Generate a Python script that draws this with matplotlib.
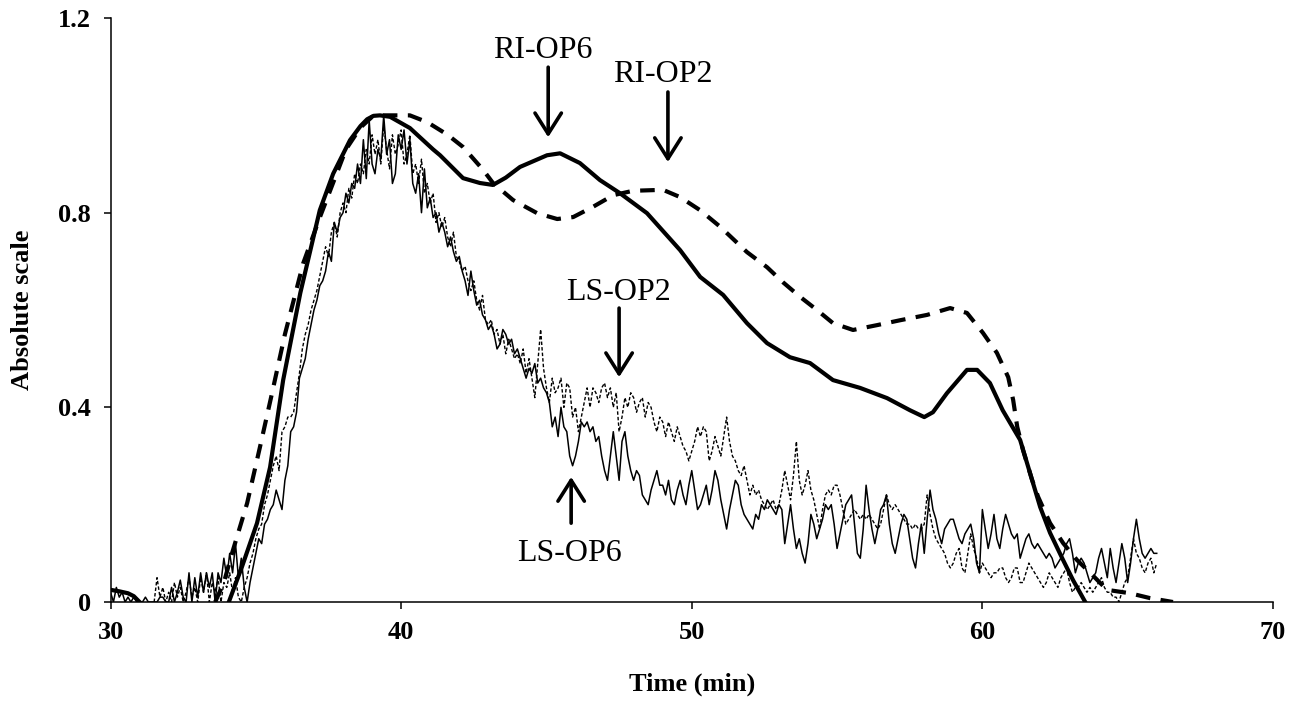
import numpy as np
import matplotlib
matplotlib.use("Agg")
from matplotlib import pyplot
from matplotlib import ticker

# time grid of the light-scattering records (min)
ls_op6_t0 = 30.0
ls_op2_t0 = 31.5
dt = 0.1

# LS-OP6 (thin solid), one row per minute
ls_op6 = [
    0.02, 0.00, 0.03, 0.01, 0.02, 0.00, 0.01, 0.00, 0.01, 0.00,   # 30
    0.00, 0.00, 0.01, 0.00, 0.00, 0.00, 0.00, 0.01, 0.01, 0.00,   # 31
    0.00, 0.03, 0.00, 0.02, 0.045, 0.01, 0.00, 0.06, 0.00, 0.05,  # 32
    0.01, 0.06, 0.02, 0.06, 0.03, 0.06, 0.00, 0.06, 0.04, 0.09,   # 33
    0.05, 0.10, 0.06, 0.12, 0.05, 0.09, 0.03, 0.00, 0.04, 0.07,   # 34
    0.10, 0.13, 0.12, 0.16, 0.17, 0.19, 0.20, 0.23, 0.21, 0.19,   # 35
    0.25, 0.28, 0.35, 0.36, 0.39, 0.46, 0.48, 0.50, 0.54, 0.57,   # 36
    0.60, 0.62, 0.65, 0.66, 0.68, 0.72, 0.70, 0.78, 0.76, 0.79,   # 37
    0.80, 0.84, 0.82, 0.86, 0.85, 0.90, 0.86, 0.95, 0.87, 0.99,   # 38
    0.90, 0.88, 0.93, 0.91, 1.00, 0.92, 0.95, 0.86, 0.88, 0.96,   # 39
    0.93, 0.97, 0.90, 0.95, 0.86, 0.84, 0.88, 0.80, 0.89, 0.81,   # 40
    0.83, 0.79, 0.80, 0.76, 0.78, 0.76, 0.73, 0.75, 0.72, 0.70,   # 41
    0.71, 0.68, 0.66, 0.63, 0.68, 0.64, 0.61, 0.62, 0.59, 0.58,   # 42
    0.56, 0.57, 0.55, 0.52, 0.53, 0.56, 0.55, 0.53, 0.54, 0.51,   # 43
    0.52, 0.50, 0.48, 0.46, 0.48, 0.47, 0.49, 0.45, 0.46, 0.44,   # 44
    0.43, 0.41, 0.36, 0.38, 0.34, 0.40, 0.36, 0.35, 0.30, 0.28,   # 45
    0.30, 0.33, 0.37, 0.36, 0.37, 0.35, 0.36, 0.33, 0.34, 0.30,   # 46
    0.27, 0.25, 0.30, 0.35, 0.30, 0.25, 0.33, 0.35, 0.30, 0.27,   # 47
    0.25, 0.27, 0.26, 0.22, 0.21, 0.20, 0.23, 0.25, 0.27, 0.24,   # 48
    0.24, 0.22, 0.25, 0.21, 0.20, 0.23, 0.25, 0.22, 0.20, 0.24,   # 49
    0.27, 0.23, 0.19, 0.20, 0.22, 0.24, 0.20, 0.23, 0.27, 0.25,   # 50
    0.21, 0.18, 0.15, 0.19, 0.22, 0.25, 0.24, 0.20, 0.18, 0.17,   # 51
    0.16, 0.15, 0.18, 0.17, 0.20, 0.19, 0.21, 0.20, 0.19, 0.18,   # 52
    0.20, 0.19, 0.12, 0.16, 0.20, 0.15, 0.11, 0.13, 0.10, 0.08,   # 53
    0.12, 0.18, 0.16, 0.13, 0.15, 0.17, 0.20, 0.19, 0.20, 0.16,   # 54
    0.11, 0.14, 0.17, 0.20, 0.21, 0.22, 0.16, 0.10, 0.09, 0.15,   # 55
    0.24, 0.19, 0.15, 0.12, 0.15, 0.19, 0.20, 0.22, 0.16, 0.12,   # 56
    0.10, 0.13, 0.16, 0.18, 0.17, 0.13, 0.09, 0.07, 0.12, 0.16,   # 57
    0.10, 0.17, 0.23, 0.19, 0.17, 0.14, 0.12, 0.15, 0.16, 0.17,   # 58
    0.17, 0.15, 0.13, 0.12, 0.14, 0.15, 0.16, 0.13, 0.08, 0.06,   # 59
    0.19, 0.15, 0.11, 0.14, 0.18, 0.13, 0.11, 0.15, 0.18, 0.16,   # 60
    0.14, 0.13, 0.14, 0.09, 0.11, 0.13, 0.14, 0.12, 0.11, 0.12,   # 61
    0.11, 0.10, 0.09, 0.10, 0.09, 0.07, 0.08, 0.09, 0.10, 0.12,   # 62
    0.13, 0.10, 0.06, 0.08, 0.09, 0.08, 0.06, 0.04, 0.05, 0.06,   # 63
    0.09, 0.11, 0.08, 0.05, 0.11, 0.07, 0.04, 0.08, 0.12, 0.09,   # 64
    0.04, 0.08, 0.13, 0.17, 0.13, 0.10, 0.09, 0.10, 0.11, 0.10,   # 65
    0.10,                                                         # 66
]

# LS-OP2 (thin dotted), starts at 31.5 min
ls_op2 = [
    0.00, 0.05, 0.01, 0.03, 0.00,                                 # 31.5
    0.02, 0.00, 0.04, 0.01, 0.03, 0.00, 0.02, 0.05, 0.01, 0.03,   # 32
    0.00, 0.05, 0.02, 0.06, 0.00, 0.04, 0.02, 0.05, 0.00, 0.04,   # 33
    0.03, 0.06, 0.02, 0.05, 0.01, 0.00, 0.03, 0.05, 0.08, 0.10,   # 34
    0.13, 0.15, 0.16, 0.20, 0.22, 0.25, 0.28, 0.30, 0.27, 0.35,   # 35
    0.36, 0.38, 0.38, 0.39, 0.43, 0.47, 0.52, 0.55, 0.57, 0.60,   # 36
    0.62, 0.64, 0.67, 0.70, 0.73, 0.71, 0.76, 0.78, 0.75, 0.80,   # 37
    0.82, 0.80, 0.85, 0.83, 0.88, 0.86, 0.90, 0.88, 0.93, 0.90,   # 38
    0.96, 0.92, 0.95, 0.90, 0.98, 0.93, 0.89, 0.96, 0.92, 0.94,   # 39
    0.97, 0.90, 0.92, 0.96, 0.88, 0.90, 0.86, 0.91, 0.84, 0.86,   # 40
    0.82, 0.84, 0.78, 0.80, 0.77, 0.79, 0.75, 0.73, 0.76, 0.71,   # 41
    0.70, 0.68, 0.69, 0.66, 0.64, 0.66, 0.62, 0.60, 0.63, 0.58,   # 42
    0.57, 0.58, 0.55, 0.56, 0.53, 0.55, 0.51, 0.54, 0.52, 0.50,   # 43
    0.51, 0.49, 0.52, 0.47, 0.50, 0.46, 0.42, 0.49, 0.56, 0.48,   # 44
    0.44, 0.41, 0.46, 0.43, 0.44, 0.46, 0.40, 0.45, 0.44, 0.38,   # 45
    0.40, 0.35, 0.38, 0.41, 0.44, 0.40, 0.44, 0.43, 0.41, 0.44,   # 46
    0.45, 0.42, 0.44, 0.40, 0.43, 0.35, 0.38, 0.42, 0.40, 0.43,   # 47
    0.42, 0.39, 0.41, 0.42, 0.38, 0.41, 0.40, 0.37, 0.35, 0.38,   # 48
    0.37, 0.34, 0.37, 0.35, 0.33, 0.36, 0.34, 0.32, 0.31, 0.29,   # 49
    0.31, 0.33, 0.36, 0.34, 0.36, 0.35, 0.29, 0.31, 0.34, 0.32,   # 50
    0.30, 0.34, 0.38, 0.33, 0.30, 0.29, 0.27, 0.26, 0.28, 0.25,   # 51
    0.22, 0.24, 0.22, 0.23, 0.21, 0.20, 0.19, 0.20, 0.21, 0.19,   # 52
    0.20, 0.23, 0.27, 0.24, 0.21, 0.26, 0.33, 0.25, 0.22, 0.24,   # 53
    0.27, 0.23, 0.21, 0.18, 0.15, 0.19, 0.22, 0.23, 0.22, 0.24,   # 54
    0.24, 0.22, 0.19, 0.16, 0.17, 0.18, 0.19, 0.18, 0.17, 0.18,   # 55
    0.17, 0.18, 0.17, 0.16, 0.15, 0.16, 0.19, 0.22, 0.20, 0.19,   # 56
    0.20, 0.19, 0.18, 0.17, 0.16, 0.16, 0.15, 0.16, 0.15, 0.15,   # 57
    0.16, 0.22, 0.18, 0.15, 0.13, 0.12, 0.11, 0.10, 0.08, 0.07,   # 58
    0.08, 0.10, 0.11, 0.07, 0.06, 0.10, 0.14, 0.11, 0.09, 0.06,   # 59
    0.08, 0.07, 0.06, 0.05, 0.06, 0.06, 0.07, 0.07, 0.05, 0.04,   # 60
    0.05, 0.07, 0.07, 0.04, 0.04, 0.06, 0.08, 0.07, 0.06, 0.05,   # 61
    0.04, 0.03, 0.04, 0.06, 0.05, 0.04, 0.03, 0.05, 0.06, 0.07,   # 62
    0.04, 0.02, 0.03, 0.03, 0.04, 0.03, 0.02, 0.03, 0.02, 0.03,   # 63
    0.04, 0.05, 0.03, 0.02, 0.02, 0.01, 0.01, 0.00, 0.02, 0.04,   # 64
    0.05, 0.09, 0.13, 0.10, 0.09, 0.07, 0.06, 0.08, 0.09, 0.06,   # 65
    0.08,                                                         # 66
]

# RI-OP6 (thick solid)
ri_op6_t = [30.0, 30.3, 30.6, 30.8, 31.0, np.nan,
            34.07, 34.52, 35.04, 35.49, 35.94, 36.53, 37.2, 37.66, 38.24, 38.6,
            38.83, 39.05, 39.27, 39.62, 40.3, 41.1, 41.34, 42.13, 42.71, 43.16,
            43.6, 44.09, 45.02, 45.47, 46.15, 46.84, 47.53, 48.46, 49.6, 50.29,
            51.08, 51.9, 52.59, 53.38, 54.07, 54.86, 55.79, 56.72, 57.51, 58.0,
            58.3, 58.78, 59.47, 59.82, 60.26, 60.7, 61.3, 61.64, 61.99, 62.33,
            62.78, 63.12, 63.54]
ri_op6 = [0.025, 0.022, 0.018, 0.012, 0.0, np.nan,
          0.0, 0.072, 0.162, 0.277, 0.456, 0.635, 0.805, 0.88, 0.949, 0.978,
          0.992, 0.999, 1.0, 0.997, 0.974, 0.93, 0.918, 0.871, 0.861, 0.857,
          0.872, 0.894, 0.918, 0.922, 0.902, 0.867, 0.84, 0.799, 0.723, 0.668,
          0.631, 0.573, 0.532, 0.503, 0.491, 0.456, 0.44, 0.419, 0.394, 0.38,
          0.39, 0.429, 0.477, 0.477, 0.45, 0.394, 0.333, 0.265, 0.195, 0.142,
          0.086, 0.045, 0.0]

# RI-OP2 (thick dashed)
ri_op2_t = [33.6, 33.9, 34.18, 34.7, 35.14, 35.56, 36.0, 36.63, 37.2, 38.1,
            38.6, 39.0, 39.3, 40.3, 40.9, 41.6, 42.13, 42.82, 43.16, 43.85,
            44.68, 45.37, 45.92, 46.6, 47.3, 47.98, 49.01, 49.6, 50.29, 50.98,
            51.9, 52.59, 53.14, 53.73, 54.31, 54.86, 55.55, 56.38, 57.17, 58.1,
            58.89, 59.47, 60.02, 60.5, 60.89, 61.06, 61.2, 61.4, 61.71, 61.92,
            62.33, 62.78, 63.26, 63.71, 64.29, 65.08, 65.77, 66.56]
ri_op2 = [0.0, 0.04, 0.10, 0.203, 0.318, 0.43, 0.55, 0.696, 0.79, 0.93,
          0.975, 0.997, 1.0, 1.0, 0.986, 0.96, 0.935, 0.888, 0.861, 0.826,
          0.799, 0.787, 0.791, 0.812, 0.836, 0.845, 0.847, 0.832, 0.805, 0.771,
          0.719, 0.688, 0.657, 0.627, 0.6, 0.573, 0.559, 0.569, 0.579, 0.59,
          0.604, 0.594, 0.553, 0.512, 0.462, 0.415, 0.36, 0.312, 0.251, 0.216,
          0.162, 0.121, 0.086, 0.06, 0.025, 0.018, 0.008, 0.0]

# annotations: label, text position, arrow tail, arrow tip
notes = [
    ("RI-OP6", (44.88, 1.134), (45.06, 1.099), (45.06, 0.955)),
    ("RI-OP2", (49.01, 1.083), (49.18, 1.048), (49.18, 0.904)),
    ("LS-OP2", (47.47, 0.637), (47.50, 0.604), (47.50, 0.462)),
    ("LS-OP6", (45.81, 0.100), (45.85, 0.162), (45.85, 0.257)),
]

x_ticks = [30, 40, 50, 60, 70]
y_ticks = [0, 0.4, 0.8, 1.2]

pyplot.rcParams["font.family"] = ["Liberation Serif", "DejaVu Serif"]

fig = pyplot.figure(figsize=(13.02, 7.07), dpi=100)
ax = fig.add_axes([0.0849, 0.1485, 0.8928, 0.826])

t6 = ls_op6_t0 + dt * np.arange(len(ls_op6))
t2 = ls_op2_t0 + dt * np.arange(len(ls_op2))

ax.plot(t2, ls_op2, color="k", lw=1.0, dashes=(2.5, 1.5))
ax.plot(t6, ls_op6, color="k", lw=1.1)
ax.plot(ri_op2_t, ri_op2, color="k", lw=3.0, dashes=(3.5, 2.5))
ax.plot(ri_op6_t, ri_op6, color="k", lw=3.0)

for label, txt, tail, tip in notes:
    ax.text(*txt, label, ha="center", va="center", fontsize=23)
    ax.annotate("", xy=tip, xytext=tail,
                arrowprops=dict(arrowstyle="->,head_length=1.5,head_width=0.95",
                                lw=2.6, color="k", shrinkA=0, shrinkB=0))

ax.set_xlim(30, 70)
ax.set_ylim(0, 1.2)
ax.set_xticks(x_ticks)
ax.set_yticks(y_ticks)
ax.yaxis.set_major_formatter(ticker.FuncFormatter(
    lambda v, p: "0" if v == 0 else "{:.1f}".format(v)))

for side in ["top", "right"]:
    ax.spines[side].set_visible(False)
for side in ["left", "bottom"]:
    ax.spines[side].set_linewidth(1.1)

ax.tick_params(direction="out", length=5, width=1.1, pad=9, labelsize=19)
for lbl in ax.get_xticklabels() + ax.get_yticklabels():
    lbl.set_fontweight("bold")

ax.set_xlabel("Time (min)", fontsize=19, fontweight="bold")
ax.set_ylabel("Absolute scale", fontsize=19, fontweight="bold")
ax.xaxis.set_label_coords(0.5, -0.12)
ax.yaxis.set_label_coords(-0.066, 0.5)

fig.savefig("out.png", dpi=100)
